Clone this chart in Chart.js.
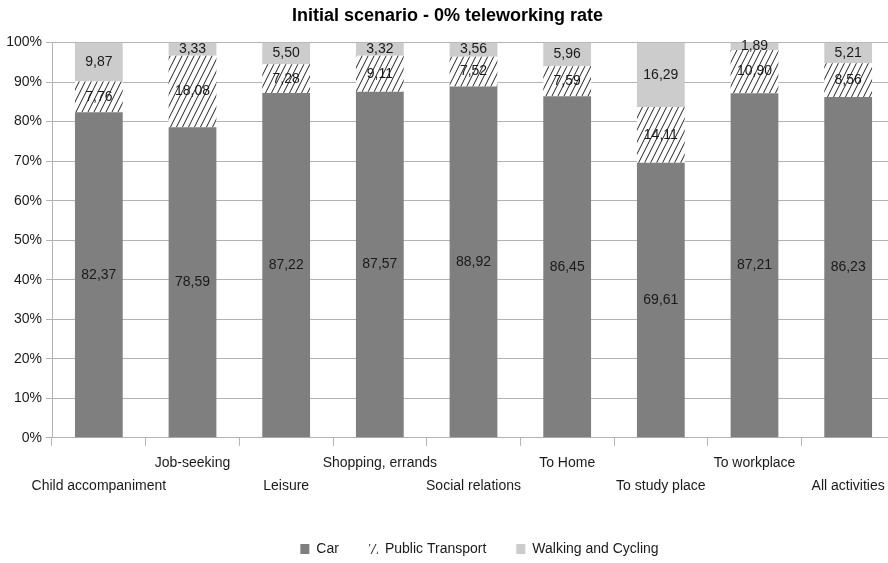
<!DOCTYPE html>
<html>
<head>
<meta charset="utf-8">
<script src="https://cdn.jsdelivr.net/npm/chart.js@4.4.1/dist/chart.umd.min.js"></script>
<style>
  html, body { margin: 0; padding: 0; background: #fff; }
  #wrap { width: 888px; height: 563px; overflow: hidden; }
  #wrap canvas { display: block; }
</style>
</head>
<body>
<div id="wrap"><canvas id="modeChart" width="896" height="563"></canvas></div>
<script>
const categories = ['Child accompaniment', 'Job-seeking', 'Leisure', 'Shopping, errands',
  'Social relations', 'To Home', 'To study place', 'To workplace', 'All activities'];
const carShare = [82.37, 78.59, 87.22, 87.57, 88.92, 86.45, 69.61, 87.21, 86.23];
const publicTransportShare = [7.76, 18.08, 7.28, 9.11, 7.52, 7.59, 14.11, 10.90, 8.56];
const walkCycleShare = [9.87, 3.33, 5.50, 3.32, 3.56, 5.96, 16.29, 1.89, 5.21];

const FONT = "'Liberation Sans', Arial, sans-serif";

// steep diagonal hatch for public transport
function makeHatch() {
  const c = document.createElement('canvas');
  c.width = 6; c.height = 12;
  const p = c.getContext('2d');
  p.fillStyle = '#fff';
  p.fillRect(0, 0, 6, 12);
  p.strokeStyle = '#222';
  p.lineWidth = 1;
  p.beginPath();
  p.moveTo(0, 12); p.lineTo(6, 0);
  p.moveTo(-6, 12); p.lineTo(0, 0);
  p.moveTo(6, 12); p.lineTo(12, 0);
  p.stroke();
  return p.createPattern(c, 'repeat');
}
const hatch = makeHatch();

// staggered labels: odd ones on first row, even ones on second
const xLabels = categories.map((c, i) => i % 2 === 0 ? ['', c] : [c, '']);

const valueLabels = {
  id: 'valueLabels',
  afterDatasetsDraw(chart) {
    const ctx = chart.ctx;
    ctx.save();
    ctx.font = '14px ' + FONT;
    ctx.fillStyle = '#1a1a1a';
    ctx.textAlign = 'center';
    ctx.textBaseline = 'middle';
    chart.data.datasets.forEach((ds, di) => {
      chart.getDatasetMeta(di).data.forEach((bar, i) => {
        const txt = ds.data[i].toFixed(2).replace('.', ',');
        ctx.fillText(txt, bar.x, (bar.y + bar.base) / 2);
      });
    });
    ctx.restore();
  }
};

const shiftLegend = {
  id: 'shiftLegend',
  afterLayout(chart) {
    chart.legend.left += 32;
    chart.legend.right += 32;
  }
};

Chart.defaults.font.family = FONT;
Chart.defaults.color = '#1a1a1a';

new Chart(document.getElementById('modeChart'), {
  type: 'bar',
  data: {
    labels: xLabels,
    datasets: [
      { label: 'Car', data: carShare, backgroundColor: '#7f7f7f', barPercentage: 0.51, categoryPercentage: 1 },
      { label: 'Public Transport', data: publicTransportShare, backgroundColor: hatch, barPercentage: 0.51, categoryPercentage: 1 },
      { label: 'Walking and Cycling', data: walkCycleShare, backgroundColor: '#cccccc', barPercentage: 0.51, categoryPercentage: 1 }
    ]
  },
  options: {
    responsive: false,
    animation: false,
    layout: { padding: { left: 0, right: 1, top: 0, bottom: -3 } },
    plugins: {
      title: {
        display: true,
        text: 'Initial scenario - 0% teleworking rate',
        color: '#000',
        font: { size: 18, weight: 'bold' },
        padding: { top: 5, bottom: 16 }
      },
      legend: {
        position: 'bottom',
        labels: { boxWidth: 9, boxHeight: 10, padding: 30, font: { size: 14 }, color: '#1a1a1a' }
      },
      tooltip: { enabled: false }
    },
    scales: {
      x: {
        stacked: true,
        afterFit(scale) { scale.height += 8; },
        grid: { drawOnChartArea: false, color: '#b3b3b3', tickLength: 8 },
        border: { color: '#b3b3b3' },
        ticks: { autoSkip: false, maxRotation: 0, padding: 6, font: { size: 14, lineHeight: 1.65 } }
      },
      y: {
        stacked: true,
        min: 0,
        max: 100,
        afterFit(scale) { scale.width = 52; },
        grid: { color: '#b3b3b3', tickLength: 6 },
        border: { color: '#b3b3b3' },
        ticks: { stepSize: 10, padding: 4, font: { size: 14 }, callback: v => v + '%' }
      }
    }
  },
  plugins: [valueLabels, shiftLegend]
});
</script>
</body>
</html>
